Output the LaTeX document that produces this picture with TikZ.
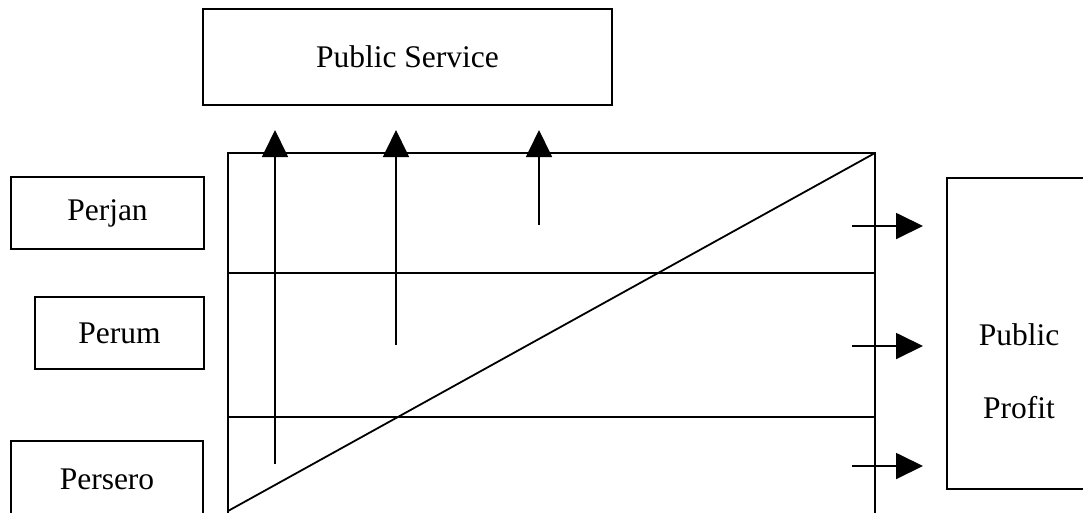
\documentclass[tikz,border=0pt]{standalone}
\usepackage{fontspec}
\setmainfont{Liberation Serif}
\usetikzlibrary{arrows.meta}

\begin{document}
\begin{tikzpicture}[x=1pt, y=-1pt, line width=1.8pt,
  entity/.style={draw, rectangle, inner sep=0pt, font=\fontsize{31.5}{38}\selectfont},
  plain/.style={inner sep=0pt, font=\fontsize{31.5}{38}\selectfont},
  flow/.style={-{Triangle[length=27pt, width=26pt]}}]
\useasboundingbox (0,0) rectangle (1083,512);
\clip (0,0) rectangle (1083,512);

% Public service box
\node[entity, minimum width=409pt, minimum height=96pt] (service) at (407.5,57) {Public Service};

% Form boxes
\node[entity, minimum width=193pt, minimum height=72pt] (perjan) at (107.5,213) {Perjan};
\node[entity, minimum width=169pt, minimum height=72pt] (perum) at (119.5,333) {Perum};
\node[entity, minimum width=192pt, minimum height=76pt] (persero) at (107,479) {Persero};

% Public profit box
\node[entity, minimum width=144pt, minimum height=311pt] (profit) at (1019,333.5) {};
\node[plain] (profit-a) at (1019,335) {Public};
\node[plain] (profit-b) at (1019,408) {Profit};

% Grid
\coordinate (grid-nw) at (228,153);
\coordinate (grid-ne) at (875,153);
\coordinate (grid-sw) at (228,520);
\coordinate (grid-se) at (875,520);
\coordinate (row1-w) at (228,273);
\coordinate (row1-e) at (875,273);
\coordinate (row2-w) at (228,417);
\coordinate (row2-e) at (875,417);
\coordinate (diag-s) at (228,511);
\draw (grid-sw) -- (grid-nw) -- (grid-ne) -- (grid-se);
\draw (row1-w) -- (row1-e);
\draw (row2-w) -- (row2-e);
\draw (diag-s) -- (grid-ne);

% Arrows to public service
\coordinate (up1) at (275,464);
\coordinate (up2) at (396,345);
\coordinate (up3) at (539,225);
\coordinate (tip1) at (275,130);
\coordinate (tip2) at (396,130);
\coordinate (tip3) at (539,130);
\draw[flow] (up1) -- (tip1);
\draw[flow] (up2) -- (tip2);
\draw[flow] (up3) -- (tip3);

% Arrows to public profit
\coordinate (out1) at (852,226);
\coordinate (out2) at (852,346);
\coordinate (out3) at (852,466);
\coordinate (end1) at (923,226);
\coordinate (end2) at (923,346);
\coordinate (end3) at (923,466);
\draw[flow] (out1) -- (end1);
\draw[flow] (out2) -- (end2);
\draw[flow] (out3) -- (end3);
\end{tikzpicture}
\end{document}
